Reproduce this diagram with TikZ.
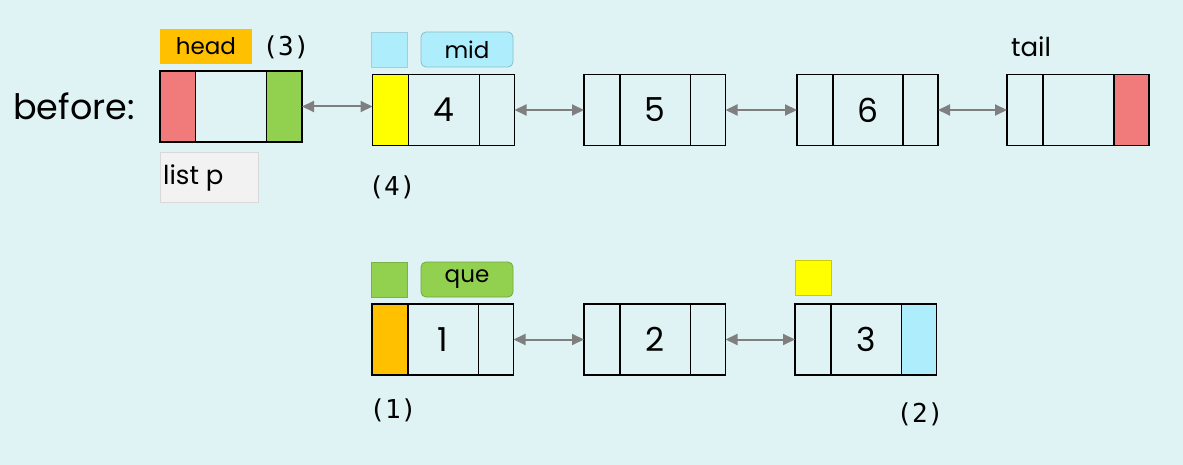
\documentclass[tikz,border=0pt]{standalone}
\usepackage{fontspec}
\setmainfont{Poppins}
\newfontfamily\monof{DejaVu Sans Mono}
\usetikzlibrary{arrows.meta}
\definecolor{bgc}{HTML}{DFF3F5}
\definecolor{redc}{HTML}{F17B7B}
\definecolor{greenc}{HTML}{92D050}
\definecolor{yellowc}{HTML}{FFFF00}
\definecolor{orangec}{HTML}{FFC000}
\definecolor{cyanc}{HTML}{AEEDFB}
\definecolor{arrowc}{HTML}{7F7F7F}
\tikzset{
  cell/.style={draw=black, line width=1.6pt, inner sep=0pt, outer sep=0pt, minimum height=71pt},
  lc/.style={cell, minimum width=36pt},
  mc/.style={cell, minimum width=71pt, font=\fontsize{33}{33}\selectfont},
  rc/.style={cell, minimum width=35pt},
  link/.style={draw=arrowc, line width=2pt, arrows={Triangle[length=12pt,width=11pt]-Triangle[length=12pt,width=11pt]}},
  tagbox/.style={inner sep=0pt, outer sep=0pt, minimum height=35pt, font=\fontsize{23}{23}\selectfont},
  sq/.style={inner sep=0pt, outer sep=0pt, minimum width=36pt, minimum height=35pt, line width=0.8pt},
  step lbl/.style={font=\monof\fontsize{26}{26}\selectfont, inner sep=0pt},
  plain lbl/.style={font=\fontsize{26}{26}\selectfont, inner sep=0pt}
}
\begin{document}
\begin{tikzpicture}[x=1pt,y=-1pt]
\fill[bgc] (0,0) rectangle (1183,465);
\useasboundingbox (0,0) rectangle (1183,465);

% before label
\node[font=\fontsize{35}{35}\selectfont, inner sep=0pt, anchor=base west] (before) at (13,120) {before:};

% head node
\node[lc, fill=redc, minimum width=35.5pt] (ha) at (177.75,106.5) {};
\node[mc, minimum width=71pt] (hb) at (231,106.5) {};
\node[rc, fill=greenc, minimum width=35.5pt] (hc) at (284.25,106.5) {};
\node[tagbox, fill=orangec, minimum width=92pt] (headlbl) at (206,46.5) {head};
\node[step lbl] (s3) at (286,47) {(3)};
\node[fill=black!5, draw=black!15, line width=1pt, minimum width=98pt, minimum height=50pt, inner sep=0pt] (listp) at (209,178) {};
\node[plain lbl, anchor=west] (listptxt) at (163,178) {list p};

% node 4
\node[lc, fill=yellowc] (n4a) at (390.5,110) {};
\node[mc] (n4b) at (444,110) {4};
\node[rc] (n4c) at (497,110) {};
\node[sq, fill=cyanc, draw=cyanc!85!black!90] (sqc) at (389,49.5) {};
\node[tagbox, fill=cyanc, draw=cyanc!80!black, line width=0.8pt, rounded corners=5pt, minimum width=92pt] (midlbl) at (467,49.5) {mid};
\node[step lbl] (s4) at (392,187) {(4)};

% node 5
\node[lc] (n5a) at (602,110) {};
\node[mc] (n5b) at (655,110) {5};
\node[rc] (n5c) at (708,110) {};

% node 6
\node[lc] (n6a) at (815,110) {};
\node[mc] (n6b) at (868,110) {6};
\node[rc] (n6c) at (920.5,110) {};

% tail node
\node[lc] (ta) at (1025,110) {};
\node[mc] (tb) at (1078.5,110) {};
\node[rc, fill=redc] (tc) at (1131.5,110) {};
\node[plain lbl] (taillbl) at (1031,47) {tail};

% links top
\draw[link] (hc.east) -- (n4a.west |- hc.east);
\draw[link] (n4c.east) -- (n5a.west);
\draw[link] (n5c.east) -- (n6a.west);
\draw[link] (n6c.east) -- (ta.west);

% node 1
\node[lc, fill=orangec] (n1a) at (390,339.5) {};
\node[mc] (n1b) at (443,339.5) {1};
\node[rc] (n1c) at (496,339.5) {};
\node[sq, fill=greenc, draw=greenc!85!black] (sqg) at (389.5,279.5) {};
\node[tagbox, fill=greenc, draw=greenc!80!black, line width=0.8pt, rounded corners=5pt, minimum width=92pt] (quelbl) at (467,279.5) {que};
\node[step lbl] (s1) at (393,410) {(1)};

% node 2
\node[lc] (n2a) at (602,339.5) {};
\node[mc] (n2b) at (655,339.5) {2};
\node[rc] (n2c) at (708,339.5) {};

% node 3
\node[lc] (n3a) at (813,339.5) {};
\node[mc] (n3b) at (866,339.5) {3};
\node[rc, fill=cyanc] (n3c) at (919,339.5) {};
\node[sq, fill=yellowc, draw=yellowc!80!black] (sqy) at (813,277.5) {};
\node[step lbl] (s2) at (920,414) {(2)};

% links bottom
\draw[link] (n1c.east) -- (n2a.west);
\draw[link] (n2c.east) -- (n3a.west);
\end{tikzpicture}
\end{document}
